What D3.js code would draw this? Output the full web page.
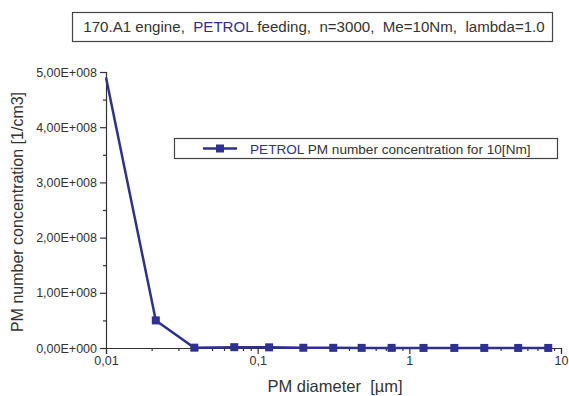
<!DOCTYPE html>
<html>
<head>
<meta charset="utf-8">
<script src="https://cdn.jsdelivr.net/npm/d3@7"></script>
<style>
  body { margin: 0; background: #fff; }
  text { font-family: "Liberation Sans", Arial, sans-serif; fill: #333; white-space: pre; }
</style>
</head>
<body>
<svg id="chart" width="569" height="396"></svg>
<script>
// values
const diameters = [0.01, 0.0213, 0.0382, 0.0701, 0.119, 0.2, 0.315, 0.485, 0.764, 1.24, 1.98, 3.12, 5.22, 8.24];
const concentrations = [4.9e8, 5.0e7, 6e5, 1.5e6, 1.2e6, 4e5, 3e5, 2e5, 2e5, 1e5, 1e5, 1e5, 1e5, 1e5];
const xTicks = [0.01, 0.1, 1, 10];
const xTickLabels = ["0,01", "0,1", "1", "10"];
const yTicks = [0, 1e8, 2e8, 3e8, 4e8, 5e8];
const yTickLabels = ["0,00E+000", "1,00E+008", "2,00E+008", "3,00E+008", "4,00E+008", "5,00E+008"];

const blue = "#2e3192";
const margin = {top: 72, right: 8, bottom: 48, left: 106};
const width = 569 - margin.left - margin.right;
const height = 396 - margin.top - margin.bottom;

const root = d3.select("svg#chart");
const svg = root.append("g")
    .attr("transform", "translate(" + margin.left + "," + margin.top + ")");

const xScale = d3.scaleLog().domain([0.01, 10]).range([0, width]);
const yScale = d3.scaleLinear().domain([0, 5e8]).range([height, 0]);

// minor ticks
const xMinor = [];
for (let d = 0.01; d < 10; d *= 10) {
    for (let k = 2; k <= 9; k++) xMinor.push(d * k);
}
svg.append("g")
    .attr("transform", "translate(0," + height + ")")
    .call(d3.axisBottom(xScale).tickValues(xMinor).tickSize(3).tickFormat(""))
    .call(g => g.select(".domain").remove());
svg.append("g")
    .call(d3.axisLeft(yScale).tickValues([0.5e8, 1.5e8, 2.5e8, 3.5e8, 4.5e8]).tickSize(3).tickFormat(""))
    .call(g => g.select(".domain").remove());

// major axes
svg.append("g")
    .attr("transform", "translate(0," + height + ")")
    .call(d3.axisBottom(xScale).tickValues(xTicks).tickSize(6).tickPadding(2)
        .tickFormat((d, i) => xTickLabels[i]));
svg.append("g")
    .call(d3.axisLeft(yScale).tickValues(yTicks).tickSize(6).tickPadding(3)
        .tickFormat((d, i) => yTickLabels[i]));

svg.selectAll(".domain, .tick line").attr("stroke", "#333").attr("stroke-width", 1.2);
svg.selectAll(".tick text").attr("font-size", "12.5px").attr("fill", "#333")
    .attr("font-family", "Liberation Sans, Arial, sans-serif");

// series
const pts = diameters.map((d, i) => ({x: d, y: concentrations[i]}));
svg.append("path")
    .datum(pts)
    .attr("fill", "none")
    .attr("stroke", blue)
    .attr("stroke-width", 2.5)
    .attr("d", d3.line().x(d => xScale(d.x)).y(d => yScale(d.y)));
svg.selectAll("rect.pt")
    .data(pts.slice(1))
    .enter()
    .append("rect")
        .attr("class", "pt")
        .attr("x", d => xScale(d.x) - 4)
        .attr("y", d => yScale(d.y) - 4)
        .attr("width", 8)
        .attr("height", 8)
        .attr("fill", blue);

// axis titles
root.append("text")
    .attr("x", 335)
    .attr("y", 392)
    .attr("text-anchor", "middle")
    .attr("font-size", "16.5px")
    .text("PM diameter  [\u00b5m]");
root.append("text")
    .attr("transform", "translate(23," + (margin.top + height / 2 + 2) + ") rotate(-90)")
    .attr("text-anchor", "middle")
    .attr("font-size", "16px")
    .text("PM number concentration [1/cm3]");

// title box
root.append("rect")
    .attr("x", 72.5).attr("y", 12.5).attr("width", 480).attr("height", 29)
    .attr("fill", "#fff").attr("stroke", "#444").attr("stroke-width", 1.2);
const title = root.append("text")
    .attr("x", 314)
    .attr("y", 32)
    .attr("text-anchor", "middle")
    .attr("font-size", "15.1px");
title.append("tspan").text("170.A1 engine,  ");
title.append("tspan").attr("fill", blue).text("PETROL");
title.append("tspan").text(" feeding,  n=3000,  Me=10Nm,  lambda=1.0");

// legend
root.append("rect")
    .attr("x", 174.5).attr("y", 138.5).attr("width", 383).attr("height", 20)
    .attr("fill", "#fff").attr("stroke", "#444").attr("stroke-width", 1.2);
root.append("line")
    .attr("x1", 203).attr("x2", 237).attr("y1", 148.5).attr("y2", 148.5)
    .attr("stroke", blue).attr("stroke-width", 2.5);
root.append("rect")
    .attr("x", 216).attr("y", 144.5).attr("width", 8).attr("height", 8)
    .attr("fill", blue);
const leg = root.append("text")
    .attr("x", 250)
    .attr("y", 153.5)
    .attr("font-size", "13.6px");
leg.append("tspan").attr("fill", blue).text("PETROL");
leg.append("tspan").text(" PM number concentration for 10[Nm]");
</script>
</body>
</html>
